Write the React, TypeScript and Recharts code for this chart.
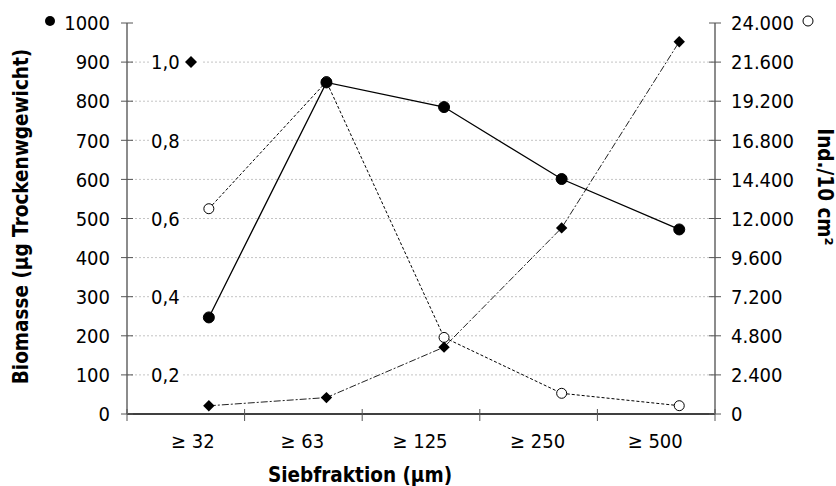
import { LineChart, Line, XAxis, YAxis, CartesianGrid, ReferenceLine } from 'recharts'

const categories = ['≥ 32', '≥ 63', '≥ 125', '≥ 250', '≥ 500']
const biomass = [247, 848, 785, 601, 472]
const individuals = [12600, 20400, 4700, 1270, 510]
const ratio = [0.121, 0.142, 0.271, 0.576, 1.052]

const leftTicks = [0, 100, 200, 300, 400, 500, 600, 700, 800, 900, 1000]
const rightTicks = [0, 2400, 4800, 7200, 9600, 12000, 14400, 16800, 19200, 21600, 24000]
const ratioTicks = [0.2, 0.4, 0.6, 0.8, 1.0]
const gridValues = [100, 200, 300, 400, 500, 600, 700, 800, 900]

const rows = categories.map((name, i) => ({
  name,
  idx: i,
  biomass: biomass[i],
  ind: individuals[i],
  ratio: ratio[i],
}))

// the data points sit a bit right of the category centres in the original
const SHIFT = 0.196

const fmtDots = (v: number) => String(v).replace(/\B(?=(\d{3})+(?!\d))/g, '.')
const fmtComma = (v: number) => v.toFixed(1).replace('.', ',')

// DejaVu squeezed a little, close to the narrow Tahoma-like face of the original
function Txt(props: any) {
  const { x, y, anchor = 'start', bold = false, rotate = 0, dy = '0.36em', size = 20, children } = props
  return (
    <text
      transform={`translate(${x},${y}) rotate(${rotate}) scale(0.9,1)`}
      x={0}
      y={0}
      dy={dy}
      textAnchor={anchor}
      fontFamily="'DejaVu Sans', sans-serif"
      fontSize={size}
      fontWeight={bold ? 'bold' : 'normal'}
      fill="#000"
    >
      {children}
    </text>
  )
}

function LeftTick(props: any) {
  const { x, y, payload } = props
  return (
    <g>
      <line x1={x - 6} x2={x + 6} y1={y} y2={y} stroke="#555" />
      <Txt x={x - 17} y={y} anchor="end">{payload.value}</Txt>
      {payload.value === 1000 && <circle cx={x - 77} cy={y - 2} r={5} fill="#000" />}
    </g>
  )
}

function RightTick(props: any) {
  const { x, y, payload } = props
  return (
    <g>
      <line x1={x - 6} x2={x + 6} y1={y} y2={y} stroke="#555" />
      <Txt x={x + 16} y={y}>{fmtDots(payload.value)}</Txt>
      {payload.value === 24000 && <circle cx={x + 93} cy={y - 2} r={5} fill="#fff" stroke="#000" />}
    </g>
  )
}

function CatTick(props: any) {
  const { x, y, payload, index, width } = props
  const half = width / categories.length / 2
  const last = index === categories.length - 1
  return (
    <g>
      <line x1={x - half} x2={x - half} y1={y - 5} y2={y + 7} stroke="#555" />
      {last && <line x1={x + half} x2={x + half} y1={y - 5} y2={y + 7} stroke="#555" />}
      <Txt x={x + (index === 0 ? 7 : -1)} y={y + 34} anchor="middle" dy={0}>{payload.value}</Txt>
    </g>
  )
}

function Diamond(props: any) {
  const { cx, cy, index } = props
  const s = 5.7
  return <path key={`dia-${index}`} d={`M${cx},${cy - s}L${cx + s},${cy}L${cx},${cy + s}L${cx - s},${cy}Z`} fill="#000" />
}

function ratioLabel(v: number) {
  return (p: any) => {
    const vb = p.viewBox
    const top = v === 1.0
    return (
      <g>
        <rect x={vb.x + 22} y={vb.y - 10} width={top ? 52 : 34} height={20} fill="#fff" />
        <Txt x={vb.x + 24} y={vb.y}>{fmtComma(v)}</Txt>
        {top && <path d={`M${vb.x + 64},${vb.y - 6}L${vb.x + 70},${vb.y}L${vb.x + 64},${vb.y + 6}L${vb.x + 58},${vb.y}Z`} fill="#000" />}
      </g>
    )
  }
}

export default function App() {
  return (
    <div style={{ position: 'absolute', left: 0, top: 0, width: 836, height: 486, background: '#fff' }}>
      <LineChart width={836} height={486} data={rows} margin={{ top: 23, right: 0, bottom: 0, left: 0 }}>
        <CartesianGrid xAxisId="cat" yAxisId="left" vertical={false} horizontalValues={gridValues} stroke="#c4c4c4" strokeDasharray="2 2" />
        <XAxis
          xAxisId="cat"
          dataKey="name"
          scale="band"
          height={72}
          interval={0}
          tickSize={0}
          tickMargin={0}
          tickLine={false}
          axisLine={{ stroke: '#000', strokeWidth: 1.3 }}
          tick={<CatTick />}
          label={(p: any) => (
            <Txt x={p.viewBox.x + 233} y={p.viewBox.y + 68} anchor="middle" bold dy={0} size={20.5}>
              Siebfraktion (µm)
            </Txt>
          )}
        />
        <XAxis xAxisId="pts" type="number" dataKey="idx" domain={[-0.5 - SHIFT, 4.5 - SHIFT]} allowDataOverflow hide height={0} />
        <YAxis
          yAxisId="left"
          width={127}
          domain={[0, 1000]}
          ticks={leftTicks}
          interval={0}
          tickSize={0}
          tickMargin={0}
          tickLine={false}
          axisLine={{ stroke: '#8c8c8c', strokeWidth: 2 }}
          tick={<LeftTick />}
          label={(p: any) => (
            <Txt x={p.viewBox.x + 28} y={p.viewBox.y + p.viewBox.height / 2 - 2} anchor="middle" bold rotate={-90} dy={0} size={20.5}>
              Biomasse (µg Trockenwgewicht)
            </Txt>
          )}
        />
        <YAxis
          yAxisId="right"
          orientation="right"
          width={121}
          domain={[0, 24000]}
          ticks={rightTicks}
          interval={0}
          tickSize={0}
          tickMargin={0}
          tickLine={false}
          axisLine={{ stroke: '#8c8c8c', strokeWidth: 2 }}
          tick={<RightTick />}
          label={(p: any) => (
            <Txt x={p.viewBox.x + 103} y={p.viewBox.y + 164} anchor="middle" bold rotate={90} dy={0} size={20.5}>
              Ind./10 cm²
            </Txt>
          )}
        />
        <YAxis yAxisId="d" domain={[0.1, 1.1]} hide allowDataOverflow width={0} />

        {ratioTicks.map((v) => (
          <ReferenceLine key={v} xAxisId="cat" yAxisId="d" y={v} stroke="none" label={ratioLabel(v)} />
        ))}

        <Line
          xAxisId="pts"
          yAxisId="right"
          dataKey="ind"
          stroke="#000"
          strokeWidth={1}
          strokeDasharray="3 2"
          dot={{ r: 5, fill: '#fff', stroke: '#000', strokeWidth: 1, strokeDasharray: '' }}
          isAnimationActive={false}
        />
        <Line
          xAxisId="pts"
          yAxisId="d"
          dataKey="ratio"
          stroke="#222"
          strokeWidth={1}
          strokeDasharray="7 2 2 2"
          dot={Diamond}
          isAnimationActive={false}
        />
        <Line
          xAxisId="pts"
          yAxisId="left"
          dataKey="biomass"
          stroke="#000"
          strokeWidth={1.3}
          dot={{ r: 5.5, fill: '#000', stroke: '#000', strokeWidth: 1 }}
          isAnimationActive={false}
        />
      </LineChart>
    </div>
  )
}
